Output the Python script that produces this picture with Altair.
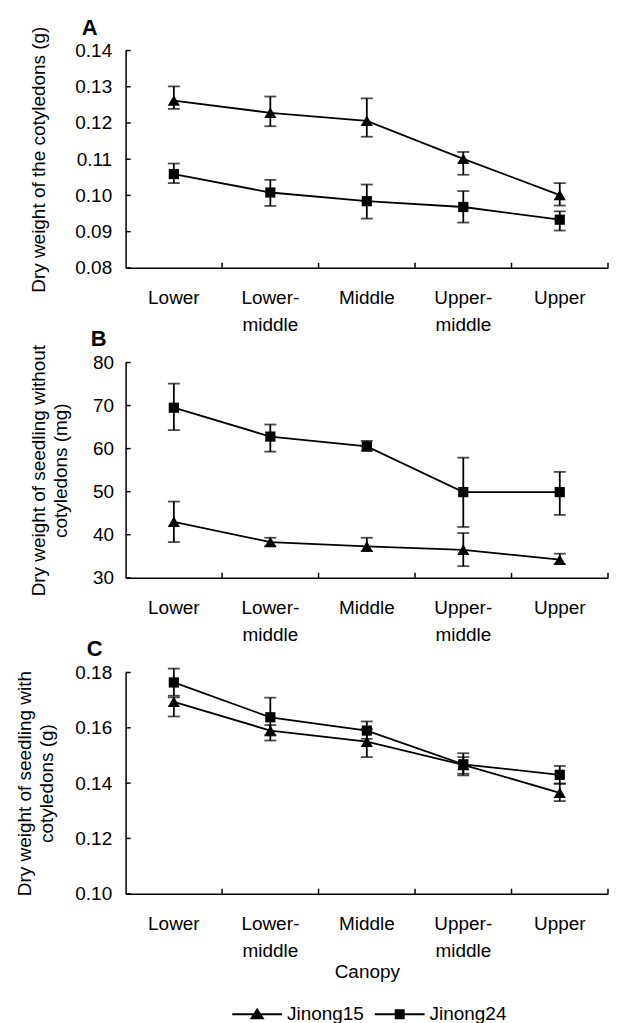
import altair as alt
import pandas as pd

categories = ["Lower", "Lower-middle", "Middle", "Upper-middle", "Upper"]
series_names = ["Jinong15", "Jinong24"]

# Panel A: dry weight of the cotyledons (g)
a_j15_mean = [0.1262, 0.1228, 0.1206, 0.1101, 0.1001]
a_j15_low = [0.1239, 0.1191, 0.1162, 0.1057, 0.0972]
a_j15_high = [0.1301, 0.1273, 0.1268, 0.1120, 0.1034]
a_j24_mean = [0.1059, 0.1008, 0.0984, 0.0968, 0.0933]
a_j24_low = [0.1034, 0.0971, 0.0936, 0.0925, 0.0903]
a_j24_high = [0.1088, 0.1043, 0.1030, 0.1012, 0.0956]

# Panel B: dry weight of seedling without cotyledons (mg)
b_j15_mean = [43.0, 38.3, 37.3, 36.5, 34.2]
b_j15_low = [38.3, 37.4, 36.2, 32.7, 33.2]
b_j15_high = [47.7, 39.3, 39.3, 40.4, 35.6]
b_j24_mean = [69.5, 62.8, 60.5, 49.9, 49.9]
b_j24_low = [64.3, 59.3, 59.5, 41.8, 44.6]
b_j24_high = [75.1, 65.6, 61.8, 57.9, 54.6]

# Panel C: dry weight of seedling with cotyledons (g)
c_j15_mean = [0.1694, 0.1590, 0.1550, 0.1466, 0.1365]
c_j15_low = [0.1641, 0.1554, 0.1494, 0.1434, 0.1335]
c_j15_high = [0.1710, 0.1610, 0.1596, 0.1494, 0.1398]
c_j24_mean = [0.1764, 0.1638, 0.1590, 0.1468, 0.1430]
c_j24_low = [0.1716, 0.1572, 0.1560, 0.1428, 0.1398]
c_j24_high = [0.1814, 0.1709, 0.1623, 0.1508, 0.1462]

a_ticks = [0.08, 0.09, 0.10, 0.11, 0.12, 0.13, 0.14]
b_ticks = [30, 40, 50, 60, 70, 80]
c_ticks = [0.10, 0.12, 0.14, 0.16, 0.18]

FONT = "Liberation Sans"
W = 484
LW = 1.8

# legend glyphs: a thin filled bar (the line) plus the marker, all filled
TRI_LEGEND = "M-1,-0.04L1,-0.04L1,0.04L-1,0.04ZM0,-0.26L0.3,0.2L-0.3,0.2Z"
SQ_LEGEND = "M-1,-0.04L1,-0.04L1,0.04L-1,0.04ZM-0.2,-0.2L0.2,-0.2L0.2,0.2L-0.2,0.2Z"


def frame(m15, l15, h15, m24, l24, h24):
    rows = []
    for s, m, l, h in ((series_names[0], m15, l15, h15), (series_names[1], m24, l24, h24)):
        for c, mm, ll, hh in zip(categories, m, l, h):
            rows.append({"cat": c, "series": s, "mean": mm, "low": ll, "high": hh})
    return pd.DataFrame(rows)


LABEL_EXPR = ("indexof(datum.label,'-') > 0 ? "
              "[slice(datum.label, 0, indexof(datum.label,'-')+1), "
              "slice(datum.label, indexof(datum.label,'-')+1)] : datum.label")


def panel(df, ticks, domain, fmt, ytitle, letter, H, title_pad, letter_dx,
          letter_offset, xtitle=None, legend=False, label_pad=12):
    xscale = alt.Scale(type="band", domain=categories, paddingInner=0, paddingOuter=0)
    yscale = alt.Scale(domain=domain, nice=False, zero=False)
    xaxis = alt.Axis(title=xtitle, ticks=False, labelAngle=0, labelExpr=LABEL_EXPR,
                     labelPadding=21, labelLineHeight=27, titlePadding=2)
    yaxis = alt.Axis(title=ytitle, values=ticks, format=fmt, ticks=False,
                     labelPadding=label_pad, titlePadding=title_pad, titleLineHeight=22)

    x = alt.X("cat:N", scale=xscale, bandPosition=0.5, axis=xaxis)

    def Y(field):
        return alt.Y(field, scale=yscale, axis=yaxis)

    base = alt.Chart(df)

    lines = base.mark_line(color="black", strokeWidth=LW).encode(
        x=x, y=Y("mean:Q"), detail="series:N")
    err = base.mark_rule(color="black", strokeWidth=LW).encode(
        x=x, y=Y("low:Q"), y2="high:Q")
    cap_lo = base.mark_tick(color="black", size=12, thickness=LW).encode(x=x, y=Y("low:Q"))
    cap_hi = base.mark_tick(color="black", size=12, thickness=LW).encode(x=x, y=Y("high:Q"))
    tri = base.transform_filter(alt.datum.series == series_names[0]).mark_point(
        shape="triangle-up", filled=True, color="black", size=150, opacity=1).encode(
        x=x, y=Y("mean:Q"))
    sq = base.transform_filter(alt.datum.series == series_names[1]).mark_point(
        shape="square", filled=True, color="black", size=105, opacity=1).encode(
        x=x, y=Y("mean:Q"))

    ytick_df = pd.DataFrame({"v": ticks})
    yticks = alt.Chart(ytick_df).mark_rule(color="black", strokeWidth=1.5).encode(
        y=Y("v:Q"), x=alt.value(0), x2=alt.value(5))
    xtick_df = pd.DataFrame({"cat": categories})
    xticks = alt.Chart(xtick_df).mark_rule(color="black", strokeWidth=1.5).encode(
        x=alt.X("cat:N", scale=xscale, bandPosition=1, axis=xaxis),
        y=alt.value(H - 5), y2=alt.value(H))

    layers = [lines, yticks, xticks, err, cap_lo, cap_hi, tri, sq]
    if legend:
        leg = base.mark_point(filled=True, color="black", opacity=0).encode(
            x=x, y=Y("mean:Q"),
            shape=alt.Shape("series:N", scale=alt.Scale(domain=series_names,
                                                         range=[TRI_LEGEND, SQ_LEGEND]),
                            legend=alt.Legend(title=None, orient="none", direction="horizontal",
                                              legendX=107, legendY=942,
                                              symbolSize=2500, symbolFillColor="black",
                                              symbolStrokeWidth=0,
                                              symbolOpacity=1, labelFontSize=19,
                                              labelFont=FONT, labelColor="black",
                                              labelOffset=5, columnPadding=10)))
        layers.append(leg)

    return alt.layer(*layers).properties(
        width=W, height=H,
        title=alt.TitleParams(letter, anchor="start", frame="group", dx=letter_dx,
                              fontSize=22, fontWeight="bold", font=FONT, color="black",
                              baseline="bottom", offset=letter_offset),
    )


dfA = frame(a_j15_mean, a_j15_low, a_j15_high, a_j24_mean, a_j24_low, a_j24_high)
dfB = frame(b_j15_mean, b_j15_low, b_j15_high, b_j24_mean, b_j24_low, b_j24_high)
dfC = frame(c_j15_mean, c_j15_low, c_j15_high, c_j24_mean, c_j24_low, c_j24_high)

pA = panel(dfA, a_ticks, [0.08, 0.14], ".2f", "Dry weight of the cotyledons (g)", "A",
           218, 26, -44, -36, label_pad=14)
pB = panel(dfB, b_ticks, [30, 80], "d", ["Dry weight of seedling without", "cotyledons (mg)"],
           "B", 216, 22, -35, -29, label_pad=12)
pC = panel(dfC, c_ticks, [0.10, 0.18], ".2f", ["Dry weight of seedling with", "cotyledons (g)"],
           "C", 222, 18, -39, -19, xtitle="Canopy", legend=True, label_pad=14)

chart = alt.vconcat(pA, pB, pC, spacing=95, bounds="flush").properties(
    padding={"left": 8, "top": 7, "right": 0, "bottom": 0}
).configure_view(stroke=None).configure_axis(
    labelFont=FONT, titleFont=FONT, labelFontSize=19, titleFontSize=19,
    labelColor="black", titleColor="black", titleFontWeight="normal",
    domainColor="black", domainWidth=1.5, grid=False,
)

chart.save("out.html", embed_options={"renderer": "svg", "actions": False})
